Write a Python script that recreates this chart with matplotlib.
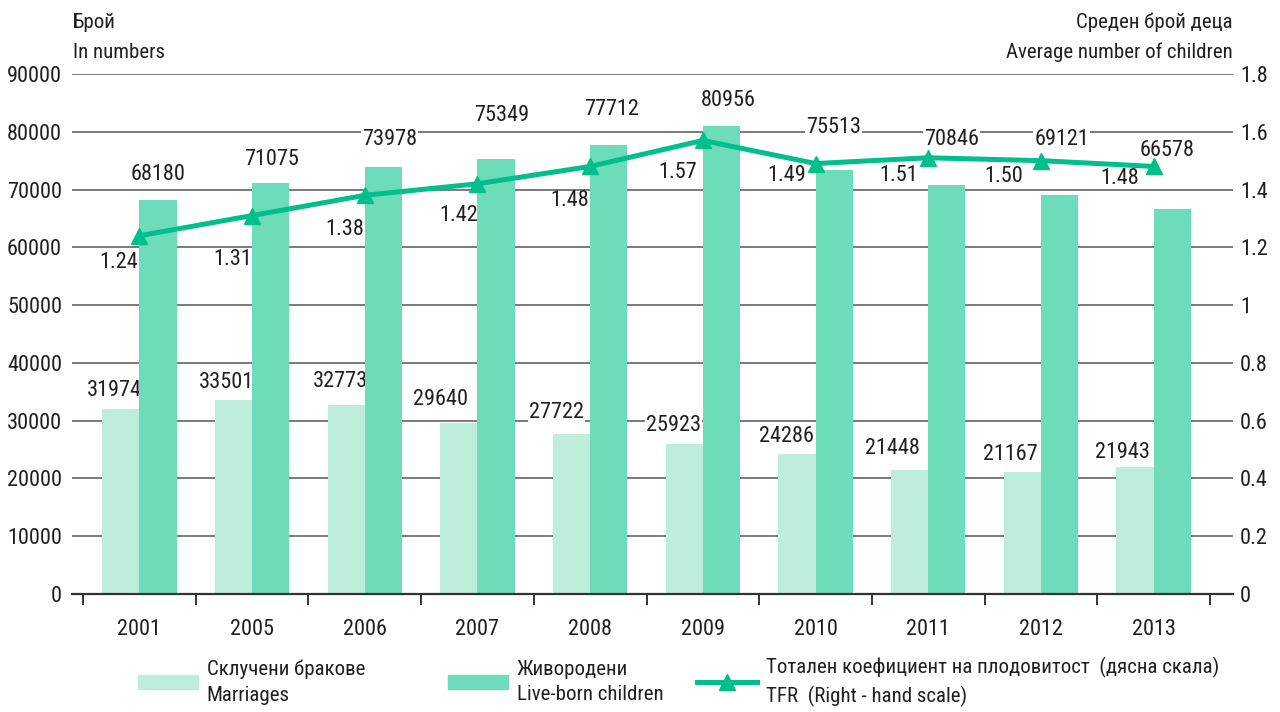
import matplotlib
matplotlib.use("Agg")
import matplotlib.pyplot as plt
from matplotlib import font_manager
from matplotlib.patches import Patch
from matplotlib.lines import Line2D
import numpy as np

avail = {f.name for f in font_manager.fontManager.ttflist}
fams = [f for f in ["Liberation Sans Narrow", "Roboto Condensed", "Open Sans Condensed"] if f in avail]
plt.rcParams["font.family"] = fams + ["DejaVu Sans"]

years = ["2001", "2005", "2006", "2007", "2008", "2009", "2010", "2011", "2012", "2013"]
marriages = [31974, 33501, 32773, 29640, 27722, 25923, 24286, 21448, 21167, 21943]
live_births = [68180, 71075, 73978, 75349, 77712, 80956, 75513, 70846, 69121, 66578]
live_births_bar = [68180, 71075, 73978, 75349, 77712, 80956, 73350, 70846, 69121, 66578]
tfr = [1.24, 1.31, 1.38, 1.42, 1.48, 1.57, 1.49, 1.51, 1.50, 1.48]
tfr_labels = ["1.24", "1.31", "1.38", "1.42", "1.48", "1.57", "1.49", "1.51", "1.50", "1.48"]
left_ticks = [0, 10000, 20000, 30000, 40000, 50000, 60000, 70000, 80000, 90000]
right_ticks = [0, 0.2, 0.4, 0.6, 0.8, 1.0, 1.2, 1.4, 1.6, 1.8]
right_tick_labels = ["0", "0.2", "0.4", "0.6", "0.8", "1", "1.2", "1.4", "1.6", "1.8"]

# label offsets in pixels (dx, dy) -- styling only
m_off = [(-6, 19), (-7, 18), (-6, 23), (-18, 23), (-15, 21), (-11, 19), (-10, 17), (-17, 22), (-12, 17), (-13, 15)]
l_off = [(0, 26), (1, 24), (6, 27), (6, 43), (3, 35), (7, 26), (-1, 30), (5, 45), (2, 55), (-5, 59)]
t_off = [(-21, -27), (-19, -44), (-20, -34), (-19, -32), (-20, -34), (-25, -32), (-29, -12), (-30, -18), (-37, -16), (-34, -12)]

C_MAR = "#BEEDDB"
C_LIVE = "#6EDCBA"
C_TFR = "#00BF8A"
C_TXT = "#231F20"
FS = 16
FS_T = 15

fig = plt.figure(figsize=(12.8, 7.12), dpi=100)
ax = fig.add_axes([72 / 1280, 1 - 594 / 712, (1233 - 72) / 1280, (594 - 74) / 712])
ax2 = ax.twinx()

x = np.arange(len(years))
w = 0.33
ax.bar(x - w / 2, marriages, width=w, color=C_MAR, zorder=2)
ax.bar(x + w / 2, live_births_bar, width=w, color=C_LIVE, zorder=2)

ax.set_xlim(-0.598, 9.704)
ax.set_ylim(0, 90000)
ax2.set_ylim(0, 1.8)

ax.set_yticks(left_ticks)
ax.set_yticklabels([str(v) for v in left_ticks])
ax2.set_yticks(right_ticks)
ax2.set_yticklabels(right_tick_labels)
ax.grid(axis="y", color="#707070", lw=1.3, zorder=0)
ax.set_axisbelow(True)

for s in ["left", "right", "top"]:
    ax.spines[s].set_visible(False)
    ax2.spines[s].set_visible(False)
ax2.spines["bottom"].set_visible(False)
ax.spines["bottom"].set_color("#333333")
ax.spines["bottom"].set_linewidth(1.6)
ax.spines["bottom"].set_zorder(3)

ax.tick_params(axis="y", length=0, pad=7.2, labelsize=FS, labelcolor=C_TXT)
ax2.tick_params(axis="y", length=0, pad=5, labelsize=FS, labelcolor=C_TXT)

ax.set_xticks(np.arange(-0.5, 10, 1.0))
ax.set_xticklabels([])
ax.set_xticks(x, minor=True)
ax.set_xticklabels(years, minor=True)
ax.tick_params(axis="x", which="major", length=8, width=1.4, color="#333333", direction="out")
ax.tick_params(axis="x", which="minor", length=0, pad=18, labelsize=FS, labelcolor=C_TXT)

bb = dict(boxstyle="square,pad=0.05", fc="white", ec="none")
for i in range(len(years)):
    ax.annotate(str(marriages[i]), (x[i] - w / 2, marriages[i]), xytext=m_off[i],
                textcoords="offset pixels", ha="center", va="center", fontsize=FS,
                color=C_TXT, bbox=bb, zorder=1.5)
    ax.annotate(str(live_births[i]), (x[i] + w / 2, live_births[i]), xytext=l_off[i],
                textcoords="offset pixels", ha="center", va="center", fontsize=FS,
                color=C_TXT, bbox=bb, zorder=1.5)
    ax2.annotate(tfr_labels[i], (x[i], tfr[i]), xytext=t_off[i],
                 textcoords="offset pixels", ha="center", va="center", fontsize=FS,
                 color=C_TXT, zorder=4)

ax2.plot(x, tfr, color=C_TFR, lw=3.6, marker="^", ms=12, zorder=5)
ax.set_zorder(1)
ax2.set_zorder(2)
ax2.patch.set_visible(False)

fig.text(73 / 1280, 1 - 22 / 712, "Брой", ha="left", va="center", fontsize=FS_T, color=C_TXT)
fig.text(73 / 1280, 1 - 52 / 712, "In numbers", ha="left", va="center", fontsize=FS_T, color=C_TXT)
fig.text(1233 / 1280, 1 - 22 / 712, "Среден брой деца", ha="right", va="center", fontsize=FS_T, color=C_TXT)
fig.text(1233 / 1280, 1 - 52 / 712, "Average number of children", ha="right", va="center", fontsize=FS_T, color=C_TXT)

legend_items = [
    (Patch(color=C_MAR), "Склучени бракове\nMarriages", 138),
    (Patch(color=C_LIVE), "Живородени\nLive-born children", 448),
    (Line2D([], [], color=C_TFR, lw=3.6, marker="^", ms=12), "Тотален коефициент на плодовитост  (дясна скала)\nTFR  (Right - hand scale)", 697),
]
for h, lab, px in legend_items:
    leg = fig.legend(handles=[h], labels=[lab], loc="center left",
                     bbox_to_anchor=(px / 1280, 1 - 682 / 712), frameon=False,
                     fontsize=FS_T, handlelength=2.9, handleheight=0.68,
                     handletextpad=0.4, borderpad=0, borderaxespad=0)
    for t in leg.get_texts():
        t.set_color(C_TXT)
        t.set_linespacing(1.45)

fig.savefig("out.png", dpi=100)
